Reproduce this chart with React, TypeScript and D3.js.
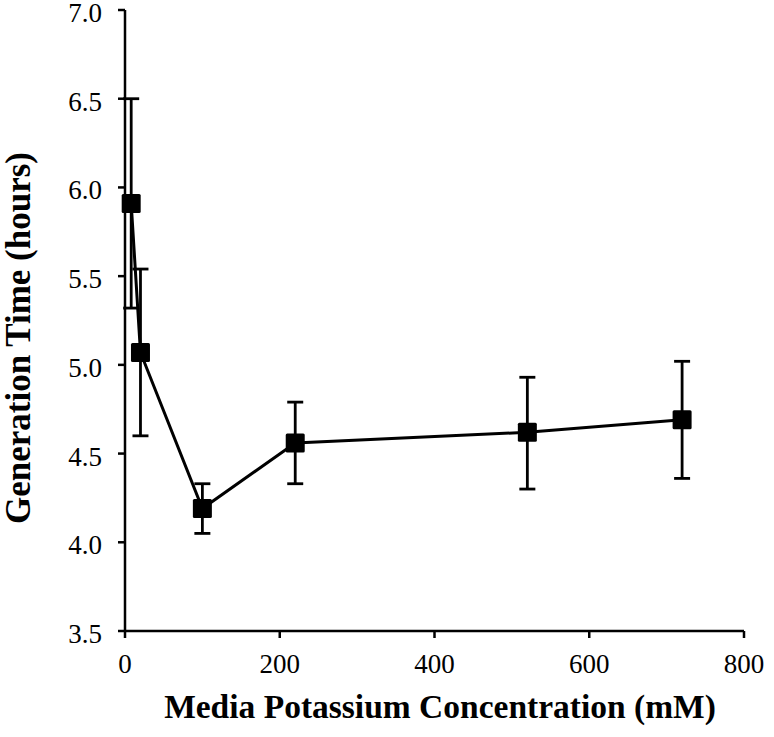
import React from "react";
import * as d3 from "d3";

const concentrations = [8, 20, 100, 220, 520, 720];
const genTime = [5.91, 5.07, 4.19, 4.56, 4.62, 4.69];
const errLow = [5.32, 4.6, 4.05, 4.33, 4.3, 4.36];
const errHigh = [6.5, 5.54, 4.33, 4.79, 4.93, 5.02];
const xTicks = [0, 200, 400, 600, 800];
const yTicks = [3.5, 4.0, 4.5, 5.0, 5.5, 6.0, 6.5, 7.0];

const W = 774;
const H = 737;
const left = 125;
const right = 744;
const top = 10;
const bottom = 631;

export default function App() {
  const x = d3.scaleLinear().domain([0, 800]).range([left, right]);
  const y = d3.scaleLinear().domain([3.5, 7.0]).range([bottom, top]);
  const line = d3
    .line<number>()
    .x((_, i) => x(concentrations[i]))
    .y((d) => y(d));
  const font = "'Liberation Serif', 'Times New Roman', serif";
  const sq = 19;
  const cap = 8;
  return (
    <svg
      width={W}
      height={H}
      style={{ position: "absolute", left: 0, top: 0, background: "#fff" }}
      fontFamily={font}
    >
      <rect width={W} height={H} fill="#fff" />
      <line x1={left} x2={left} y1={top} y2={bottom} stroke="#000" strokeWidth={2.5} />
      <line x1={left} x2={right} y1={bottom} y2={bottom} stroke="#000" strokeWidth={2.5} />
      {yTicks.map((t) => (
        <g key={"y" + t}>
          <line x1={left - 7} x2={left} y1={y(t)} y2={y(t)} stroke="#000" strokeWidth={2.5} />
          <text
            x={left - 23}
            y={y(t) + 12}
            textAnchor="end"
            fontSize={27}
            fill="#000"
          >
            {t.toFixed(1)}
          </text>
        </g>
      ))}
      {xTicks.map((t) => (
        <g key={"x" + t}>
          <line x1={x(t)} x2={x(t)} y1={bottom} y2={bottom + 7} stroke="#000" strokeWidth={2.5} />
          <text x={x(t)} y={bottom + 42} textAnchor="middle" fontSize={27} fill="#000">
            {t}
          </text>
        </g>
      ))}
      {concentrations.map((c, i) => (
        <g key={"e" + i} stroke="#000" strokeWidth={2.8}>
          <line x1={x(c)} x2={x(c)} y1={y(errLow[i])} y2={y(errHigh[i])} />
          <line x1={x(c) - cap} x2={x(c) + cap} y1={y(errLow[i])} y2={y(errLow[i])} />
          <line x1={x(c) - cap} x2={x(c) + cap} y1={y(errHigh[i])} y2={y(errHigh[i])} />
        </g>
      ))}
      <path d={line(genTime) || ""} fill="none" stroke="#000" strokeWidth={3} />
      {concentrations.map((c, i) => (
        <rect
          key={"p" + i}
          x={x(c) - sq / 2}
          y={y(genTime[i]) - sq / 2}
          width={sq}
          height={sq}
          rx={1.5}
          fill="#000"
        />
      ))}
      <text
        x={440}
        y={718}
        textAnchor="middle"
        fontSize={33.5}
        fontWeight="bold"
        fill="#000"
      >
        Media Potassium Concentration (mM)
      </text>
      <text
        transform={`translate(30, 338) rotate(-90)`}
        textAnchor="middle"
        fontSize={35}
        fontWeight="bold"
        fill="#000"
      >
        Generation Time (hours)
      </text>
    </svg>
  );
}
